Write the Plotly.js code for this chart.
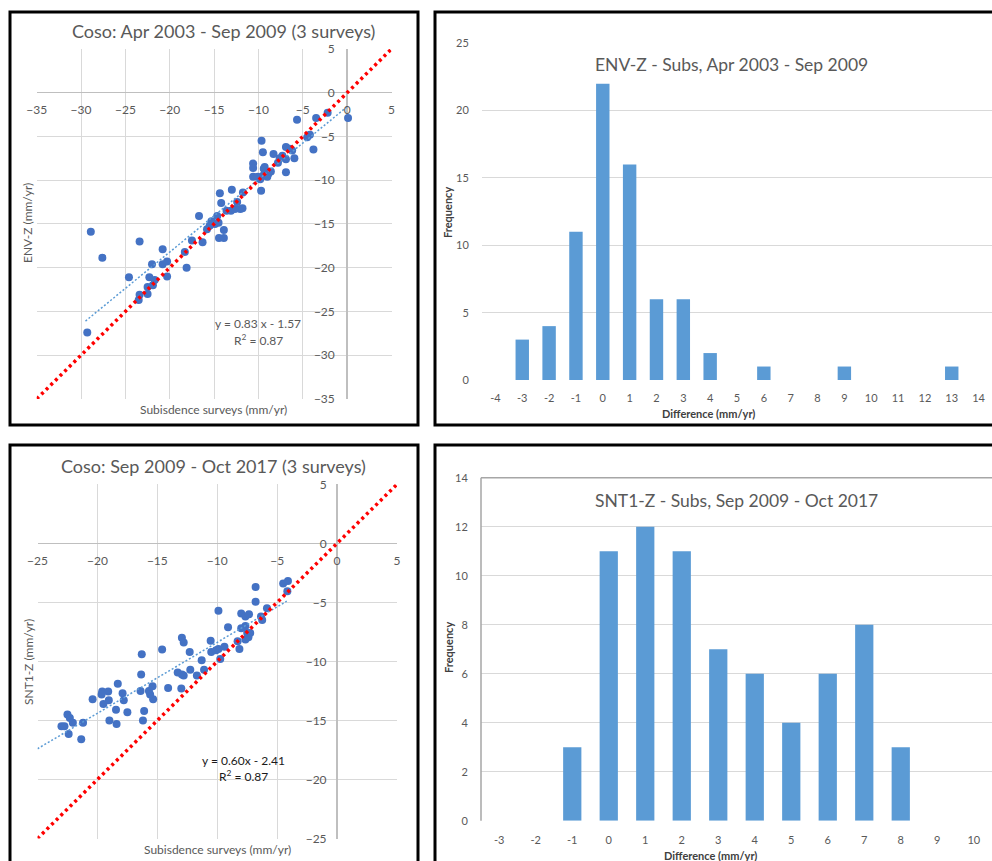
<!DOCTYPE html>
<html>
<head>
<meta charset="utf-8">
<script src="https://cdn.plot.ly/plotly-3.0.1.min.js"></script>
<style>html,body{margin:0;padding:0;background:#fff;}#chart{width:992px;height:861px;}</style>
</head>
<body>
<div id="chart"></div>
<script>
// ---- Data: panel 1 (Apr 2003 - Sep 2009) ----
const p1Subs = [-29.3,-28.9,-27.6,-24.6,-23.4,-23.4,-23.5,-22.5,-22.5,-22.3,
  -21.9,-21.7,-22.0,-20.8,-20.8,-20.3,-20.3,-18.3,-18.1,-17.5,
  -16.7,-16.3,-15.8,-15.5,-15.3,-14.9,-14.65,-14.5,-14.35,-14.2,
  -14.45,-13.9,-13.9,-13.6,-13.0,-13.1,-12.65,-12.05,-11.75,-12.4,
  -10.6,-10.6,-10.6,-10.1,-9.65,-9.5,-9.4,-9.7,-9.5,-9.0,
  -9.2,-9.8,-8.9,-8.3,-7.8,-7.3,-6.9,-6.9,-6.9,-6.5,
  -6.2,-5.95,-5.65,-4.2,-4.5,-3.8,-3.5,-2.2,0.1,-11.8,
  -7.6,-9.3,-8.6];
const p1Env = [-27.4,-15.9,-18.85,-21.1,-17.0,-23.1,-23.7,-23.0,-22.2,-21.1,
  -22.0,-21.4,-19.6,-17.9,-19.6,-19.3,-21.0,-18.2,-20.0,-16.9,
  -14.1,-17.1,-15.6,-15.2,-14.7,-15.0,-14.1,-14.85,-11.5,-12.6,
  -16.6,-15.7,-16.6,-13.5,-11.1,-13.5,-13.3,-13.3,-11.4,-12.5,
  -8.1,-8.6,-9.6,-9.6,-5.5,-6.8,-8.7,-11.2,-9.5,-9.6,
  -9.1,-9.9,-9.3,-7.0,-8.0,-7.2,-6.2,-7.6,-9.1,-6.4,
  -6.6,-7.5,-3.1,-4.8,-5.1,-6.5,-2.9,-2.3,-2.9,-13.2,
  -7.5,-8.5,-9.0];
const p1TrendX = [-29.5, 0.0];
const p1TrendY = [-26.1, -1.6];
const p1OneX = [-35, 5];
const p1OneY = [-35, 5];

// ---- Data: panel 3 (Sep 2009 - Oct 2017) ----
const p3Subs = [-23.0,-22.75,-22.4,-22.5,-22.3,-22.05,-21.2,-21.35,-20.4,-19.6,
  -19.65,-19.1,-19.5,-19.05,-19.0,-18.45,-18.4,-18.3,-17.9,-17.8,
  -17.5,-16.3,-16.35,-16.4,-16.2,-16.1,-15.7,-15.4,-15.35,-14.6,
  -14.1,-13.3,-12.95,-12.8,-12.95,-12.8,-13.0,-12.3,-12.25,-11.7,
  -11.3,-11.1,-10.55,-10.5,-10.1,-9.9,-9.9,-9.75,-9.4,-9.1,
  -8.3,-8.15,-8.0,-7.65,-7.65,-7.35,-7.65,-7.4,-7.5,-7.25,
  -6.8,-6.8,-6.35,-6.25,-5.85,-4.5,-4.1,-4.15,-8.0,-15.6];
const p3Snt = [-15.5,-15.5,-16.15,-14.5,-14.8,-15.2,-15.2,-16.6,-13.2,-12.55,
  -12.8,-12.55,-13.6,-13.3,-15.0,-14.1,-15.3,-11.9,-12.7,-13.3,
  -14.3,-9.4,-11.1,-12.5,-15.0,-14.2,-12.5,-12.1,-13.2,-9.0,
  -12.25,-10.95,-8.0,-8.4,-11.1,-11.2,-12.3,-9.2,-10.7,-11.2,
  -9.9,-10.7,-8.25,-9.2,-9.05,-8.95,-5.7,-9.8,-8.75,-7.1,
  -8.3,-8.95,-5.95,-7.0,-6.2,-6.0,-8.15,-7.95,-7.6,-7.6,
  -3.7,-4.95,-6.2,-6.5,-5.5,-3.4,-3.2,-4.05,-7.2,-12.8];
const p3TrendX = [-25, -4.2];
const p3TrendY = [-17.4, -4.9];
const p3OneX = [-25, 5];
const p3OneY = [-25, 5];

// ---- Data: histograms ----
const h1Bins = ["-4","-3","-2","-1","0","1","2","3","4","5","6","7","8","9","10","11","12","13","14"];
const h1Freq = [0,3,4,11,22,16,6,6,2,0,1,0,0,1,0,0,0,1,0];
const h2Bins = ["-3","-2","-1","0","1","2","3","4","5","6","7","8","9","10"];
const h2Freq = [0,0,3,11,12,11,7,6,4,6,8,3,0,0];

// ---- Styling helpers ----
const W = 992, H = 861;
const px = v => v / W;
const py = v => 1 - v / H;
const FONT = 'Lato, "Open Sans", sans-serif';
const GRAY = '#595959';
const GRID = '#d9d9d9';
const DOT = '#4472c4';
const BAR = '#5b9bd5';

const traces = [
  {x: p1Subs, y: p1Env, xaxis:'x', yaxis:'y', type:'scatter', mode:'markers',
   marker:{color:DOT, size:8, line:{width:0}}},
  {x: p1TrendX, y: p1TrendY, xaxis:'x', yaxis:'y', type:'scatter', mode:'lines',
   line:{color:'#5b9bd5', width:1.5, dash:'2px,2px'}},
  {x: p1OneX, y: p1OneY, xaxis:'x', yaxis:'y', type:'scatter', mode:'lines',
   line:{color:'#ff0000', width:3.5, dash:'3px,3.5px'}},
  {x: h1Bins, y: h1Freq, xaxis:'x2', yaxis:'y2', type:'bar',
   marker:{color:BAR, line:{width:0}}},
  {x: p3Subs, y: p3Snt, xaxis:'x3', yaxis:'y3', type:'scatter', mode:'markers',
   marker:{color:DOT, size:8, line:{width:0}}},
  {x: p3TrendX, y: p3TrendY, xaxis:'x3', yaxis:'y3', type:'scatter', mode:'lines',
   line:{color:'#5b9bd5', width:1.5, dash:'2px,2px'}},
  {x: p3OneX, y: p3OneY, xaxis:'x3', yaxis:'y3', type:'scatter', mode:'lines',
   line:{color:'#ff0000', width:3.5, dash:'3px,3.5px'}},
  {x: h2Bins, y: h2Freq, xaxis:'x4', yaxis:'y4', type:'bar',
   marker:{color:BAR, line:{width:0}}}
];

const transparentTicks = len => ({ticks:'outside', ticklen:len, tickcolor:'rgba(0,0,0,0)'});

const scatterX = (dom, rng, pos) => Object.assign({
  domain: dom, range: rng, tick0: 0, dtick: 5, anchor: 'free', position: pos, side:'bottom',
  showgrid: true, gridcolor: GRID, gridwidth: 1,
  zeroline: true, zerolinecolor: '#bfbfbf', zerolinewidth: 1.5,
  showline: false, tickfont: {family: FONT, size: 12, color: GRAY}, fixedrange: true
}, transparentTicks(6));
const scatterY = (dom, rng, pos, len) => Object.assign({
  domain: dom, range: rng, tick0: 0, dtick: 5, anchor: 'free', position: pos, side:'left',
  showgrid: true, gridcolor: GRID, gridwidth: 1,
  zeroline: true, zerolinecolor: '#bfbfbf', zerolinewidth: 1.5,
  showline: false, tickfont: {family: FONT, size: 12, color: GRAY}, fixedrange: true
}, transparentTicks(len));

const layout = {
  width: W, height: H,
  margin: {l:0, r:0, t:0, b:0},
  paper_bgcolor: '#fff', plot_bgcolor: '#fff',
  showlegend: false,
  bargap: 0.5,
  font: {family: FONT, color: GRAY},
  xaxis: scatterX([px(36.7), px(391.5)], [-35, 5], py(92.7)),
  yaxis: scatterY([py(398.9), py(49)], [-35, 5], px(347.2), 10),
  xaxis3: scatterX([px(37.5), px(397)], [-25, 5], py(543.3)),
  yaxis3: scatterY([py(838.5), py(484.3)], [-25, 5], px(337), 8),
  xaxis2: Object.assign({domain:[px(482), 1], type:'category', range:[-0.5, 18.5], anchor:'y2',
    showgrid:false, showline:false, zeroline:false,
    tickfont:{family:FONT, size:11, color:GRAY}, fixedrange:true}, transparentTicks(8)),
  yaxis2: Object.assign({domain:[py(380), py(43.3)], range:[0, 25], dtick:5, anchor:'x2',
    showgrid:true, gridcolor:GRID, zeroline:false, showline:false,
    tickfont:{family:FONT, size:11, color:GRAY}, fixedrange:true}, transparentTicks(10)),
  xaxis4: Object.assign({domain:[px(481), 1], type:'category', range:[-0.5, 13.5], anchor:'y4',
    showgrid:false, showline:false, zeroline:false,
    tickfont:{family:FONT, size:11, color:GRAY}, fixedrange:true}, transparentTicks(9)),
  yaxis4: Object.assign({domain:[py(820.7), py(477.7)], range:[0, 14], dtick:2, anchor:'x4',
    showgrid:true, gridcolor:GRID, zeroline:false, showline:false,
    tickfont:{family:FONT, size:11, color:GRAY}, fixedrange:true}, transparentTicks(10)),
  shapes: [
    // black panel frames
    {type:'rect', xref:'paper', yref:'paper', x0:px(10), x1:px(418), y0:py(425), y1:py(12), line:{color:'#000', width:3}},
    {type:'rect', xref:'paper', yref:'paper', x0:px(435), x1:px(1010), y0:py(425), y1:py(12), line:{color:'#000', width:3}},
    {type:'rect', xref:'paper', yref:'paper', x0:px(10), x1:px(418), y0:py(880), y1:py(445), line:{color:'#000', width:3}},
    {type:'rect', xref:'paper', yref:'paper', x0:px(435), x1:px(1010), y0:py(880), y1:py(445), line:{color:'#000', width:3}},
    // plot-area outline of bottom-right histogram (top and left edges)
    {type:'line', xref:'x4 domain', yref:'y4 domain', x0:0, x1:1, y0:1, y1:1, line:{color:'#a6a6a6', width:1.5}},
    {type:'line', xref:'x4 domain', yref:'y4 domain', x0:0, x1:0, y0:0, y1:1, line:{color:'#a6a6a6', width:1.5}}
  ],
  annotations: [
    // panel 1
    {text:'Coso: Apr 2003 - Sep 2009 (3 surveys)', xref:'paper', yref:'paper', x:px(223.5), y:py(30.5), showarrow:false, xanchor:'center', yanchor:'middle', borderpad:0, font:{family:FONT, size:18, color:GRAY}},
    {text:'Subisdence surveys (mm/yr)', xref:'paper', yref:'paper', x:px(213.5), y:py(409), showarrow:false, xanchor:'center', yanchor:'middle', font:{family:FONT, size:12, color:GRAY}},
    {text:'ENV-Z (mm/yr)', xref:'paper', yref:'paper', x:px(28), y:py(223), textangle:-90, showarrow:false, xanchor:'center', yanchor:'middle', font:{family:FONT, size:12, color:GRAY}},
    {text:'y = 0.83 x - 1.57', xref:'paper', yref:'paper', x:px(258), y:py(323.5), showarrow:false, xanchor:'center', yanchor:'middle', font:{family:FONT, size:12, color:GRAY}},
    {text:'R<sup>2</sup> = 0.87', xref:'paper', yref:'paper', x:px(258), y:py(339.5), showarrow:false, xanchor:'center', yanchor:'middle', font:{family:FONT, size:12, color:GRAY}},
    // panel 2
    {text:'ENV-Z - Subs, Apr 2003 - Sep 2009', xref:'paper', yref:'paper', x:px(731), y:py(64), showarrow:false, xanchor:'center', yanchor:'middle', font:{family:FONT, size:17.5, color:GRAY}},
    {text:'<b>Frequency</b>', xref:'paper', yref:'paper', x:px(448), y:py(213), textangle:-90, showarrow:false, xanchor:'center', yanchor:'middle', font:{family:FONT, size:11, color:'#404040'}},
    {text:'<b>Difference (mm/yr)</b>', xref:'paper', yref:'paper', x:px(708), y:py(413), showarrow:false, xanchor:'center', yanchor:'middle', font:{family:FONT, size:11, color:'#404040'}},
    // panel 3
    {text:'Coso: Sep 2009 - Oct 2017 (3 surveys)', xref:'paper', yref:'paper', x:px(213), y:py(465.5), showarrow:false, xanchor:'center', yanchor:'middle', borderpad:0, font:{family:FONT, size:18, color:GRAY}},
    {text:'Subisdence surveys (mm/yr)', xref:'paper', yref:'paper', x:px(217), y:py(849), showarrow:false, xanchor:'center', yanchor:'middle', font:{family:FONT, size:12, color:GRAY}},
    {text:'SNT1-Z (mm/yr)', xref:'paper', yref:'paper', x:px(28), y:py(662), textangle:-90, showarrow:false, xanchor:'center', yanchor:'middle', font:{family:FONT, size:12, color:GRAY}},
    {text:'y = 0.60x - 2.41', xref:'paper', yref:'paper', x:px(243), y:py(760), showarrow:false, xanchor:'center', yanchor:'middle', font:{family:FONT, size:12, color:'#1a1a1a'}},
    {text:'R<sup>2</sup> = 0.87', xref:'paper', yref:'paper', x:px(243), y:py(776), showarrow:false, xanchor:'center', yanchor:'middle', font:{family:FONT, size:12, color:'#1a1a1a'}},
    // panel 4
    {text:'SNT1-Z - Subs, Sep 2009 - Oct 2017', xref:'paper', yref:'paper', x:px(736), y:py(500), showarrow:false, xanchor:'center', yanchor:'middle', font:{family:FONT, size:17.5, color:GRAY}},
    {text:'<b>Frequency</b>', xref:'paper', yref:'paper', x:px(448), y:py(648), textangle:-90, showarrow:false, xanchor:'center', yanchor:'middle', font:{family:FONT, size:11, color:'#404040'}},
    {text:'<b>Difference (mm/yr)</b>', xref:'paper', yref:'paper', x:px(710), y:py(855), showarrow:false, xanchor:'center', yanchor:'middle', font:{family:FONT, size:11, color:'#404040'}}
  ]
};

Plotly.newPlot('chart', traces, layout, {displayModeBar:false, staticPlot:true});
</script>
</body>
</html>
